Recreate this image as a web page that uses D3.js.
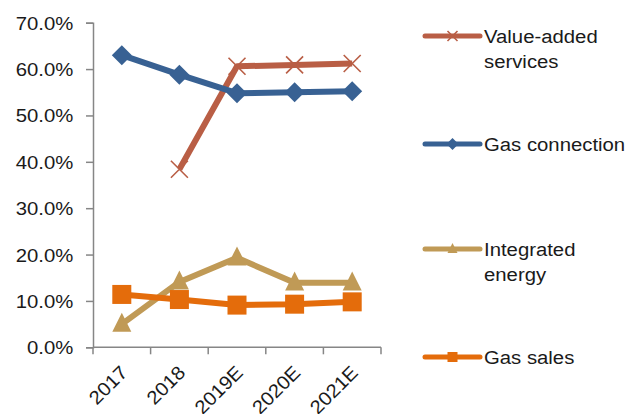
<!DOCTYPE html>
<html>
<head>
<meta charset="utf-8">
<script src="https://cdn.jsdelivr.net/npm/d3@7"></script>
<style>
  html, body { margin: 0; padding: 0; background: #fff; }
  text { font-family: Arial, "Liberation Sans", sans-serif; fill: #1a1a1a; }
</style>
</head>
<body>
<svg id="chart" width="632" height="414"></svg>
<script>
// Categories and series (share of total, %)
const years = ["2017", "2018", "2019E", "2020E", "2021E"];
const valueAdded = [null, 38.4, 60.6, 60.9, 61.2];
const gasConnection = [63.0, 58.8, 54.8, 55.0, 55.2];
const integratedEnergy = [5.0, 14.1, 19.3, 13.9, 13.9];
const gasSales = [11.4, 10.3, 9.1, 9.3, 9.8];
const yTicks = [0, 10, 20, 30, 40, 50, 60, 70];

const series = [
  { name: ["Value-added", "services"], values: valueAdded, color: "#B95E45", marker: "x" },
  { name: ["Gas connection"], values: gasConnection, color: "#386193", marker: "diamond" },
  { name: ["Integrated", "energy"], values: integratedEnergy, color: "#C09A56", marker: "triangle" },
  { name: ["Gas sales"], values: gasSales, color: "#E46C0B", marker: "square" }
];

const svg = d3.select("#chart");
const margin = { left: 93, right: 381, top: 22.7, bottom: 347.3 };
const fontSize = 19;
const stretch = 1.07; // slightly wide lettering

const x = d3.scaleBand().domain(years).range([margin.left, margin.right]);
const y = d3.scaleLinear().domain([0, 70]).range([margin.bottom, margin.top]);
const axisColor = "#868686";

// Y axis
const yAxis = svg.append("g")
  .attr("transform", `translate(${margin.left},0)`)
  .call(d3.axisLeft(y).tickValues(yTicks).tickSize(7).tickFormat(() => ""));
yAxis.select(".domain").attr("stroke", axisColor).attr("stroke-width", 1.5);
yAxis.selectAll(".tick line").attr("stroke", axisColor).attr("stroke-width", 1.5);
yAxis.selectAll(".tick").append("text")
  .attr("transform", `translate(-19.7,0) scale(${stretch},1)`)
  .attr("text-anchor", "end")
  .attr("dy", "0.34em")
  .attr("font-size", fontSize)
  .attr("fill", "#1a1a1a")
  .attr("font-family", "Arial, 'Liberation Sans', sans-serif")
  .text(d => d3.format(".1f")(d) + "%");

// X axis with ticks at band boundaries
const xg = svg.append("g").attr("transform", `translate(0,${margin.bottom})`);
xg.append("line")
  .attr("x1", margin.left).attr("x2", margin.right)
  .attr("stroke", axisColor).attr("stroke-width", 1.5);
const bounds = years.map(d => x(d)).concat([x(years[years.length - 1]) + x.bandwidth()]);
xg.selectAll("line.tk").data(bounds).join("line")
  .attr("class", "tk")
  .attr("x1", d => d).attr("x2", d => d)
  .attr("y1", 0).attr("y2", 7)
  .attr("stroke", axisColor).attr("stroke-width", 1.5);
xg.selectAll("text").data(years).join("text")
  .attr("transform", d => `translate(${x(d) + x.bandwidth() / 2 + 7},${26.5}) rotate(-45) scale(${stretch},1)`)
  .attr("text-anchor", "end")
  .attr("font-size", fontSize)
  .text(d => d);

// Marker drawing
function drawMarker(g, type, color, size) {
  const s = size;
  if (type === "diamond") {
    g.append("path").attr("d", `M0,${-s}L${s},0L0,${s}L${-s},0Z`).attr("fill", color);
  } else if (type === "square") {
    g.append("rect").attr("x", -s).attr("y", -s).attr("width", 2 * s).attr("height", 2 * s).attr("fill", color);
  } else if (type === "triangle") {
    g.append("path").attr("d", `M0,${-s * 1.2}L${s},${s * 0.8}L${-s},${s * 0.8}Z`).attr("fill", color);
  } else if (type === "x") {
    g.append("path").attr("d", `M${-s},${-s}L${s},${s}M${-s},${s}L${s},${-s}`)
      .attr("stroke", color).attr("stroke-width", 1.6).attr("fill", "none");
  }
}
const markerSize = { diamond: 10, square: 9.5, triangle: 9.5, x: 8.5 };

const line = d3.line()
  .defined(d => d.v !== null)
  .x(d => x(d.c) + x.bandwidth() / 2)
  .y(d => y(d.v));

series.forEach(s => {
  const pts = years.map((c, i) => ({ c, v: s.values[i] }));
  const g = svg.append("g");
  g.append("path").datum(pts)
    .attr("d", line)
    .attr("fill", "none")
    .attr("stroke", s.color)
    .attr("stroke-width", 6)
    .attr("stroke-linejoin", "round");
  pts.filter(p => p.v !== null).forEach(p => {
    const mg = g.append("g")
      .attr("transform", `translate(${x(p.c) + x.bandwidth() / 2},${y(p.v)})`);
    drawMarker(mg, s.marker, s.color, markerSize[s.marker]);
  });
});

// Legend
const legendY = [36, 144, 249, 357];
series.forEach((s, i) => {
  const lg = svg.append("g").attr("transform", `translate(425,${legendY[i]})`);
  lg.append("line").attr("x1", 0).attr("x2", 55)
    .attr("stroke", s.color).attr("stroke-width", 5).attr("stroke-linecap", "round");
  const mg = lg.append("g").attr("transform", "translate(27.5,0)");
  drawMarker(mg, s.marker, s.color, s.marker === "diamond" ? 6 : 5);
  s.name.forEach((t, j) => {
    lg.append("text")
      .attr("transform", `translate(59,${7 + j * 25}) scale(${stretch},1)`)
      .attr("font-size", fontSize)
      .text(t);
  });
});
</script>
</body>
</html>
